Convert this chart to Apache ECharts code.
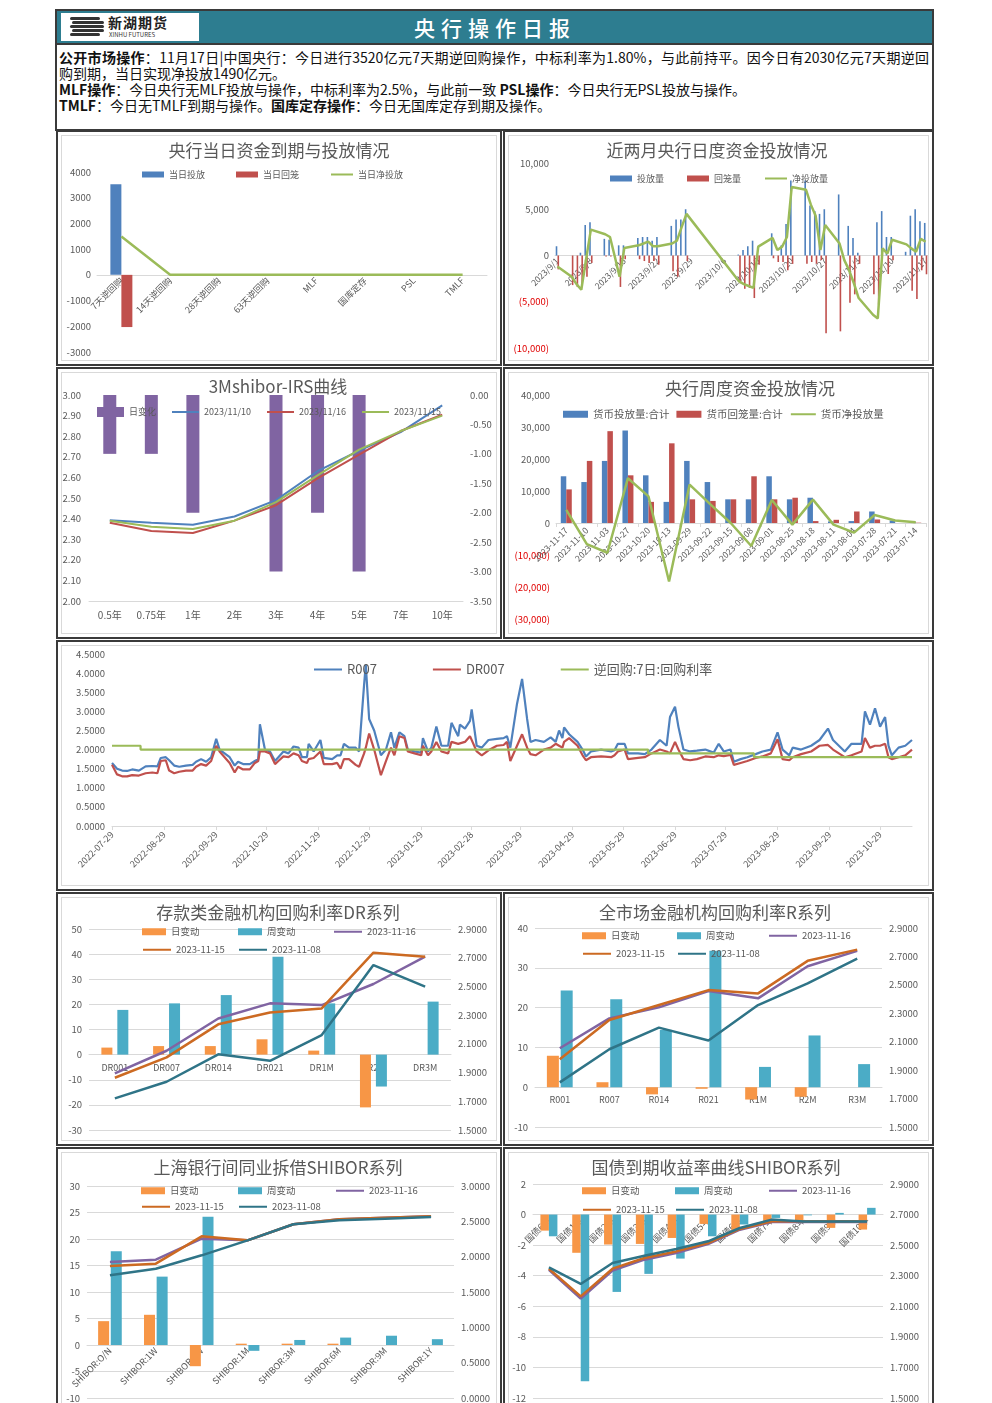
<!DOCTYPE html>
<html lang="zh-CN">
<head>
<meta charset="utf-8">
<title>央行操作日报</title>
<script src="https://cdn.jsdelivr.net/npm/echarts@6/dist/echarts.min.js"></script>
<style>
  html,body{margin:0;padding:0;background:#fff;}
  body{width:992px;height:1403px;position:relative;overflow:hidden;font-family:"Noto Sans CJK SC","Noto Sans",sans-serif;}
  .box{position:absolute;box-sizing:border-box;}
  .panel{position:absolute;box-sizing:border-box;border:2px solid #3a3a3a;background:#fff;}
  .panel .inner{position:absolute;left:3px;top:3px;right:3px;bottom:3px;border:1px solid #d9d9d9;}
  .chart{position:absolute;}
  .news{position:absolute;left:59px;font-size:14px;line-height:16px;color:#111;white-space:nowrap;}
  .news b{font-weight:700;}
  .stripe{position:absolute;height:3px;background:#333;border-radius:2px;}
</style>
</head>
<body>
<!-- 报头 -->
<div class="box" style="left:55px;top:9px;width:879px;height:122px;border:2px solid #3a3a3a;"></div>
<div class="box" style="left:57px;top:11px;width:875px;height:32px;background:#2d7d90;"></div>
<div class="box" style="left:61px;top:13px;width:138px;height:28px;background:#fff;"></div>
<div class="stripe" style="left:70px;top:17px;width:30px;"></div>
<div class="stripe" style="left:72px;top:21px;width:32px;"></div>
<div class="stripe" style="left:70px;top:25px;width:34px;"></div>
<div class="stripe" style="left:72px;top:29px;width:32px;"></div>
<div class="stripe" style="left:70px;top:33px;width:30px;"></div>
<div class="box" style="left:108px;top:13px;font-size:14px;line-height:18px;font-weight:700;color:#222;letter-spacing:1px;">新湖期货</div>
<div class="box" style="left:109px;top:31px;font-size:6px;line-height:7px;color:#333;">XINHU FUTURES</div>
<div class="box" style="left:345px;top:12px;width:300px;text-align:center;font-size:21px;line-height:30px;color:#fff;font-weight:500;letter-spacing:6px;">央行操作日报</div>
<div class="box" style="left:55px;top:43px;width:879px;height:2px;background:#3a3a3a;"></div>

<div class="news" style="top:49px;width:870px;text-align:justify;text-align-last:justify;"><b>公开市场操作</b>：11月17日|中国央行：今日进行3520亿元7天期逆回购操作，中标利率为1.80%，与此前持平。因今日有2030亿元7天期逆回</div>
<div class="news" style="top:65px;">购到期，当日实现净投放1490亿元。</div>
<div class="news" style="top:81px;"><b>MLF操作</b>：今日央行无MLF投放与操作，中标利率为2.5%，与此前一致 <b>PSL操作</b>：今日央行无PSL投放与操作。</div>
<div class="news" style="top:97px;"><b>TMLF</b>：今日无TMLF到期与操作。<b>国库定存操作</b>：今日无国库定存到期及操作。</div>

<!-- 面板 -->
<div class="panel" style="left:56px;top:130px;width:446px;height:236px;"><div class="inner"></div></div>
<div class="panel" style="left:503px;top:130px;width:431px;height:236px;"><div class="inner"></div></div>
<div class="panel" style="left:56px;top:367px;width:446px;height:272px;"><div class="inner"></div></div>
<div class="panel" style="left:503px;top:367px;width:431px;height:272px;"><div class="inner"></div></div>
<div class="panel" style="left:56px;top:640px;width:878px;height:251px;"><div class="inner"></div></div>
<div class="panel" style="left:56px;top:892px;width:446px;height:254px;"><div class="inner"></div></div>
<div class="panel" style="left:503px;top:892px;width:431px;height:254px;"><div class="inner"></div></div>
<div class="panel" style="left:56px;top:1147px;width:446px;height:265px;"><div class="inner"></div></div>
<div class="panel" style="left:503px;top:1147px;width:431px;height:265px;"><div class="inner"></div></div>

<div id="cOps" class="chart" style="left:56px;top:130px;width:446px;height:236px;"></div>
<div id="cDaily" class="chart" style="left:503px;top:130px;width:431px;height:236px;"></div>
<div id="cIrs" class="chart" style="left:56px;top:367px;width:446px;height:272px;"></div>
<div id="cWeek" class="chart" style="left:503px;top:367px;width:431px;height:272px;"></div>
<div id="cRepo" class="chart" style="left:56px;top:640px;width:878px;height:251px;"></div>
<div id="cDR" class="chart" style="left:56px;top:892px;width:446px;height:254px;"></div>
<div id="cR" class="chart" style="left:503px;top:892px;width:431px;height:254px;"></div>
<div id="cShibor" class="chart" style="left:56px;top:1147px;width:446px;height:265px;"></div>
<div id="cBond" class="chart" style="left:503px;top:1147px;width:431px;height:265px;"></div>

<script>
// ---------- 数据 ----------
// 当日资金到期与投放
const opCats = ['7天逆回购', '14天逆回购', '28天逆回购', '63天逆回购', 'MLF', '国库定存', 'PSL', 'TMLF'];
const opInject = [3520, 0, 0, 0, 0, 0, 0, 0];
const opWithdraw = [-2030, 0, 0, 0, 0, 0, 0, 0];
const opNet = [1490, 0, 0, 0, 0, 0, 0, 0];

// 近两月日度投放（工作日）
const dailyDates = ['9/1','9/4','9/5','9/6','9/7','9/8','9/11','9/12','9/13','9/14',
  '9/15','9/18','9/19','9/20','9/21','9/22','9/25','9/26','9/27','9/28',
  '10/9','10/10','10/11','10/12','10/13','10/16','10/17','10/18','10/19','10/20',
  '10/23','10/24','10/25','10/26','10/27','10/30','10/31','11/1','11/2','11/3',
  '11/6','11/7','11/8','11/9','11/10','11/13','11/14','11/15','11/16','11/17'];
const dailyInject = [1000,0,0,300,3300,3600,1800,1700,0,1100,
  1100,1900,2000,2000,1600,2000,3200,3900,3900,5000,
  100,600,1000,1600,0,2400,0,1100,3400,8100,
  8100,5400,4800,4500,5000,6600,0,3200,1900,300,
  0,3600,4800,2000,2000,400,4300,5000,3700,3520];
const dailyWithdraw = [-1500,-3200,-3400,-3400,-2300,-800,-100,-100,0,-3400,
  -400,-400,-600,-800,-600,-1000,-1700,-2300,0,-600,
  -3000,-3600,-3500,-4600,-1000,-300,-700,-700,-1600,-900,
  -900,-700,-900,-500,-8400,-8200,0,-5100,-4200,-900,
  -4200,-5300,0,-2000,-500,0,-3800,-4700,-1600,-2030];
const dailyNet = [-1200,-2300,-3100,-3700,-400,2800,2300,2000,-100,-2300,
  800,1100,1300,1500,1000,1000,1300,1600,3100,4500,
  -2800,-3100,-3300,-3500,960,1900,600,960,2000,7400,
  7100,5500,4300,600,3300,1300,-500,-1600,-3000,-4600,
  -6400,-6800,770,200,1700,1200,770,400,1800,1490];

// 3M shibor IRS
const irsCats = ['0.5年', '0.75年', '1年', '2年', '3年', '4年', '5年', '7年', '10年'];
const irsChg = [-1, -1, -2, 0, -3, -2, -3, 0, 0];
const irs1110 = [2.392, 2.38, 2.37, 2.41, 2.49, 2.63, 2.73, 2.82, 2.95];
const irs1116 = [2.38, 2.34, 2.33, 2.39, 2.465, 2.595, 2.71, 2.825, 2.905];
const irs1115 = [2.39, 2.36, 2.35, 2.39, 2.48, 2.61, 2.735, 2.825, 2.90];

// 周度投放
const weekLabels = ['2023-11-17','2023-11-10','2023-11-03','2023-10-27','2023-10-20','2023-10-13','2023-09-29','2023-09-22','2023-09-15',
  '2023-09-08','2023-09-01','2023-08-25','2023-08-18','2023-08-11','2023-08-04','2023-07-28','2023-07-21','2023-07-14'];
const weekInject = [14600,12800,19400,28900,14900,6600,19400,12800,7400,7400,14600,7400,7900,500,600,3600,800,300];
const weekWithdraw = [10500,19400,28700,14900,6600,24900,7400,6900,7400,14600,7400,7900,600,1000,3600,1100,0,100];
const weekNet = [4100,-6600,-9300,14000,8300,-18300,12000,5900,0,-7200,7200,-500,7300,-500,-3000,2500,800,200];

// R007 / DR007 / 7天逆回购利率
const repoDates = ['2022-07-29','2022-08-01','2022-08-04','2022-08-07','2022-08-10','2022-08-14','2022-08-18','2022-08-22','2022-08-25','2022-08-27',
  '2022-08-30','2022-09-01','2022-09-04','2022-09-07','2022-09-11','2022-09-15','2022-09-17','2022-09-20','2022-09-23','2022-09-26',
  '2022-09-29','2022-10-01','2022-10-04','2022-10-07','2022-10-10','2022-10-12','2022-10-15','2022-10-19','2022-10-22','2022-10-24',
  '2022-10-25','2022-10-28','2022-10-31','2022-11-03','2022-11-05','2022-11-08','2022-11-11','2022-11-14','2022-11-17','2022-11-19',
  '2022-11-22','2022-11-23','2022-11-26','2022-11-30','2022-12-02','2022-12-07','2022-12-10','2022-12-12','2022-12-14','2022-12-17',
  '2022-12-21','2022-12-23','2022-12-26','2022-12-27','2022-12-29','2023-01-01','2023-01-05','2023-01-08','2023-01-11','2023-01-13',
  '2023-01-16','2023-01-19','2023-01-21','2023-01-25','2023-01-29','2023-01-30','2023-02-02','2023-02-04','2023-02-07','2023-02-10',
  '2023-02-14','2023-02-16','2023-02-20','2023-02-21','2023-02-24','2023-02-27','2023-02-28','2023-03-03','2023-03-06','2023-03-10',
  '2023-03-15','2023-03-19','2023-03-21','2023-03-23','2023-03-27','2023-03-30','2023-04-02','2023-04-04','2023-04-07','2023-04-12',
  '2023-04-16','2023-04-19','2023-04-21','2023-04-23','2023-04-24','2023-04-27','2023-05-02','2023-05-05','2023-05-07','2023-05-10',
  '2023-05-16','2023-05-22','2023-05-24','2023-05-26','2023-05-30','2023-06-01','2023-06-07','2023-06-11','2023-06-15','2023-06-20',
  '2023-06-24','2023-06-26','2023-06-29','2023-07-01','2023-07-04','2023-07-08','2023-07-12','2023-07-17','2023-07-22','2023-07-25',
  '2023-07-28','2023-08-01','2023-08-03','2023-08-07','2023-08-11','2023-08-16','2023-08-20','2023-08-25','2023-08-29','2023-09-01',
  '2023-09-05','2023-09-07','2023-09-12','2023-09-18','2023-09-23','2023-09-28','2023-10-01','2023-10-08','2023-10-12','2023-10-18',
  '2023-10-20','2023-10-23','2023-10-26','2023-10-29','2023-11-01','2023-11-03','2023-11-05','2023-11-09','2023-11-13','2023-11-17'];
const r007 = [1.65,1.50,1.45,1.44,1.48,1.45,1.56,1.57,1.56,1.78,
  1.80,1.72,1.58,1.55,1.58,1.60,1.68,1.75,1.68,1.80,
  2.28,2.00,1.90,1.80,1.58,1.68,1.62,1.62,1.70,1.75,
  2.66,2.00,1.95,1.70,1.80,1.95,1.90,2.08,2.05,1.80,
  1.80,2.15,1.95,2.25,1.78,1.75,1.85,1.85,2.15,2.05,
  2.05,1.95,3.70,4.22,2.80,2.50,1.85,2.00,2.45,2.05,
  2.45,2.35,2.00,1.95,1.92,2.30,1.95,2.05,2.60,2.10,
  2.10,2.70,2.35,2.65,2.55,2.75,3.05,2.10,2.05,2.25,
  2.28,2.30,2.35,2.05,3.20,3.85,2.80,2.20,2.25,2.20,
  2.32,2.20,2.50,2.30,2.58,2.40,2.20,2.00,1.82,1.95,
  2.00,1.95,1.98,2.15,2.15,1.90,1.90,1.88,2.00,2.25,
  2.10,2.85,3.12,2.60,2.00,1.95,1.97,2.00,1.92,2.15,
  1.95,2.00,1.68,1.75,1.80,1.88,1.95,2.00,2.45,2.00,
  1.85,2.05,2.00,2.10,2.25,2.55,2.25,1.95,2.15,2.15,
  3.00,2.65,3.08,2.60,2.85,2.10,1.85,2.05,2.10,2.25];
const dr007 = [1.60,1.35,1.30,1.30,1.33,1.32,1.38,1.40,1.38,1.70,
  1.72,1.45,1.38,1.42,1.45,1.45,1.55,1.62,1.58,1.70,
  2.10,1.95,1.80,1.65,1.40,1.55,1.48,1.48,1.65,1.70,
  1.95,1.95,1.90,1.62,1.70,1.82,1.80,1.90,1.85,1.70,
  1.65,1.75,1.78,1.95,1.62,1.62,1.65,1.50,1.75,1.75,
  1.60,1.55,1.90,2.05,2.42,2.00,1.33,1.70,2.05,1.85,
  2.35,2.30,1.95,1.90,1.85,2.10,1.85,1.95,2.20,1.95,
  1.90,2.20,2.15,2.15,2.20,2.35,2.40,1.95,1.85,1.98,
  2.10,2.12,2.20,1.70,2.10,2.40,2.05,1.88,1.85,2.00,
  2.05,2.15,2.10,2.05,2.20,2.30,2.10,1.85,1.72,1.80,
  1.82,1.80,1.85,1.95,2.00,1.75,1.78,1.80,1.90,2.00,
  1.95,1.90,2.20,2.00,1.75,1.72,1.75,1.82,1.80,1.85,
  1.83,1.86,1.60,1.65,1.70,1.78,1.82,1.90,2.27,1.75,
  1.72,1.80,1.88,1.95,2.10,2.12,2.00,1.80,1.85,1.95,
  2.30,2.05,2.10,2.10,2.15,1.80,1.75,1.80,1.85,2.00];
const rrDates = ['2022-07-29', '2022-08-15', '2023-06-13', '2023-08-15', '2023-11-17'];
const rrRates = [2.10, 2.00, 1.90, 1.80, 1.80];

// DR 系列
const drCats = ['DR001', 'DR007', 'DR014', 'DR021', 'DR1M', 'DR2M', 'DR3M'];
const drDay = [2.8, 3.4, 3.4, 6.1, 1.6, -21.0, 0];
const drWeek = [17.8, 20.4, 23.7, 39.0, 20.4, -12.7, 21.1];
const dr1116 = [1.894, 2.052, 2.277, 2.382, 2.370, 2.517, 2.707];
const dr1115 = [1.864, 2.006, 2.236, 2.319, 2.347, 2.735, 2.707];
const dr1108 = [1.720, 1.836, 2.027, 1.982, 2.161, 2.649, 2.498];

// R 系列
const rCats = ['R001', 'R007', 'R014', 'R021', 'R1M', 'R2M', 'R3M'];
const rDay = [7.9, 1.25, -1.8, -0.4, -3.1, -2.4, 0];
const rWeek = [24.3, 22.1, 14.4, 34.3, 5.1, 13.0, 5.8];
const r1116 = [2.054, 2.264, 2.342, 2.456, 2.405, 2.631, 2.739];
const r1115 = [1.977, 2.253, 2.358, 2.463, 2.440, 2.669, 2.748];
const r1108 = [1.814, 2.047, 2.199, 2.108, 2.358, 2.510, 2.685];

// SHIBOR 系列
const shCats = ['SHIBOR:O/N', 'SHIBOR:1W', 'SHIBOR:2W', 'SHIBOR:1M', 'SHIBOR:3M', 'SHIBOR:6M', 'SHIBOR:9M', 'SHIBOR:1Y'];
const shDay = [4.5, 5.7, -4.0, 0.25, 0.25, 0.25, 0, 0];
const shWeek = [17.7, 12.9, 24.2, -1.1, 0.95, 1.4, 1.75, 1.1];
const sh1116 = [1.925, 1.958, 2.255, 2.231, 2.458, 2.528, 2.552, 2.571];
const sh1115 = [1.868, 1.901, 2.288, 2.231, 2.458, 2.528, 2.552, 2.571];
const sh1108 = [1.736, 1.830, 2.019, 2.231, 2.458, 2.514, 2.538, 2.561];

// 国债收益率
const bdCats = ['国债6月', '国债1年', '国债2年', '国债3年', '国债4年', '国债5年', '国债6年', '国债7年', '国债8年', '国债9年', '国债10年'];
const bdDay = [-1.05, -2.5, -1.96, -1.92, -1.53, -0.61, -1.02, -0.59, -0.48, -0.87, -0.98];
const bdWeek = [-1.42, -10.9, -5.06, -3.88, -2.88, -1.42, -0.65, -0.22, -0.05, 0.11, 0.44];
const bd1116 = [2.339, 2.150, 2.333, 2.405, 2.449, 2.507, 2.601, 2.651, 2.651, 2.651, 2.651];
const bd1115 = [2.346, 2.165, 2.346, 2.416, 2.459, 2.514, 2.606, 2.656, 2.656, 2.656, 2.656];
const bd1108 = [2.355, 2.246, 2.383, 2.431, 2.475, 2.525, 2.612, 2.667, 2.655, 2.655, 2.655];

// ---------- 样式 ----------
const FONT = '"Noto Sans CJK SC","Noto Sans",sans-serif';
const TXT = '#595959';
const GRIDC = '#d9d9d9';
const C_BLUE = '#4f81bd', C_RED = '#c0504d', C_GREEN = '#9bbb59', C_PURPLE = '#8064a2';
const C_ORANGE = '#f79646', C_TEAL = '#4bacc6', C_BROWN = '#cc6a22', C_DTEAL = '#2f7487';

function mk(id, opt) {
  const chart = echarts.init(document.getElementById(id), null, {renderer: 'canvas'});
  opt.animation = false;
  opt.textStyle = {fontFamily: FONT};
  chart.setOption(opt);
  return chart;
}
function ttl(text, left, top) {
  return {text: text, left: left, top: top, textAlign: 'center', padding: 0,
    textStyle: {fontSize: 17, fontWeight: 'normal', color: TXT, fontFamily: FONT}};
}
// 类目轴放在 0 值处（整条轴含标签一起上移）
function zeroShift(h, grid, min, max) {
  const plotH = h - grid.top - grid.bottom;
  return -plotH * (0 - min) / (max - min);
}
const lbl = (extra) => Object.assign({fontSize: 9.5, color: TXT, fontFamily: FONT}, extra || {});
const thou = v => Math.abs(v).toLocaleString('en-US');
const redParen = v => v < 0 ? '{n|(' + thou(v) + ')}' : thou(v);
const lineS = (name, data, color, extra) => Object.assign({name: name, type: 'line', data: data, symbol: 'none',
  lineStyle: {width: 2.5, color: color}, itemStyle: {color: color}}, extra || {});
const lineLeg = name => ({name: name, itemStyle: {opacity: 0}});
const noAxisLine = {axisLine: {show: false}, axisTick: {show: false}};

// 1 央行当日资金到期与投放情况
const g1 = {left: 41, right: 15, top: 42, bottom: 14};
mk('cOps', {
  title: ttl('央行当日资金到期与投放情况', 223, 12),
  legend: {top: 40, left: 86, itemWidth: 22, itemHeight: 6, itemGap: 31, padding: 0,
    textStyle: {fontSize: 9, color: TXT},
    data: [{name: '当日投放', icon: 'rect'}, {name: '当日回笼', icon: 'rect'}, lineLeg('当日净投放')]},
  grid: g1,
  xAxis: {type: 'category', data: opCats, offset: zeroShift(236, g1, -3000, 4000),
    axisLine: {onZero: false, lineStyle: {color: GRIDC}}, axisTick: {show: false},
    axisLabel: lbl({rotate: 45, interval: 0, fontSize: 9, margin: 4})},
  yAxis: Object.assign({type: 'value', min: -3000, max: 4000, interval: 1000, splitLine: {show: false},
    axisLabel: lbl({margin: 6, formatter: v => String(v)})}, noAxisLine),
  series: [
    {name: '当日投放', type: 'bar', data: opInject, barWidth: 11, barGap: '0%', itemStyle: {color: C_BLUE}},
    {name: '当日回笼', type: 'bar', data: opWithdraw, barWidth: 11, itemStyle: {color: C_RED}},
    lineS('当日净投放', opNet, C_GREEN)
  ]
});

// 2 近两月央行日度资金投放情况
const calDays = [];
for (let i = 0; i < 78; i++) {
  const d = new Date(Date.UTC(2023, 8, 1 + i));
  calDays.push((d.getUTCMonth() + 1) + '/' + d.getUTCDate());
}
const onCal = arr => calDays.map(k => { const i = dailyDates.indexOf(k); return i < 0 ? null : arr[i]; });
const g2 = {left: 52, right: 6, top: 33, bottom: 18};
mk('cDaily', {
  title: ttl('近两月央行日度资金投放情况', 214, 12),
  legend: {top: 44, left: 107, itemWidth: 22, itemHeight: 6, itemGap: 23, padding: 0,
    textStyle: {fontSize: 9, color: TXT},
    data: [{name: '投放量', icon: 'rect'}, {name: '回笼量', icon: 'rect'}, lineLeg('净投放量')]},
  grid: g2,
  xAxis: {type: 'category', data: calDays, offset: zeroShift(236, g2, -10000, 10000),
    axisLine: {onZero: false, lineStyle: {color: GRIDC}}, axisTick: {show: false},
    axisLabel: lbl({rotate: 45, interval: 6, fontSize: 8.5, margin: 4, formatter: v => '2023/' + v})},
  yAxis: Object.assign({type: 'value', min: -10000, max: 10000, interval: 5000, splitLine: {show: false},
    axisLabel: lbl({margin: 6, formatter: redParen, rich: {n: {color: '#e00000', fontSize: 9.5, fontFamily: FONT}}})}, noAxisLine),
  series: [
    {name: '投放量', type: 'bar', data: onCal(dailyInject), barWidth: 1.6, barGap: '10%', itemStyle: {color: C_BLUE}},
    {name: '回笼量', type: 'bar', data: onCal(dailyWithdraw), barWidth: 1.6, itemStyle: {color: C_RED}},
    lineS('净投放量', onCal(dailyNet), C_GREEN, {connectNulls: true})
  ]
});

// 3 3Mshibor-IRS曲线
mk('cIrs', {
  title: ttl('3Mshibor-IRS曲线', 222, 11),
  legend: {top: 40, left: 41, itemWidth: 27, itemHeight: 10, itemGap: 15, padding: 0,
    textStyle: {fontSize: 9, color: TXT},
    data: [{name: '日变化', icon: 'rect'}, lineLeg('2023/11/10'), lineLeg('2023/11/16'), lineLeg('2023/11/15')]},
  grid: {left: 33, right: 39, top: 28, bottom: 38},
  xAxis: {type: 'category', data: irsCats,
    axisLine: {onZero: false, lineStyle: {color: GRIDC}}, axisTick: {show: false},
    axisLabel: lbl({fontSize: 10, margin: 9, interval: 0})},
  yAxis: [
    Object.assign({type: 'value', min: 2, max: 3, interval: 0.1, splitLine: {show: false},
      axisLabel: lbl({margin: 8, formatter: v => v.toFixed(2)})}, noAxisLine),
    Object.assign({type: 'value', min: -3.5, max: 0, interval: 0.5, splitLine: {show: false},
      axisLabel: lbl({margin: 7, formatter: v => v.toFixed(2)})}, noAxisLine)
  ],
  series: [
    {name: '日变化', type: 'bar', yAxisIndex: 1, data: irsChg, barWidth: 13, itemStyle: {color: C_PURPLE}},
    lineS('2023/11/10', irs1110, C_BLUE, {lineStyle: {width: 2, color: C_BLUE}}),
    lineS('2023/11/16', irs1116, C_RED, {lineStyle: {width: 2, color: C_RED}}),
    lineS('2023/11/15', irs1115, C_GREEN, {lineStyle: {width: 2, color: C_GREEN}})
  ]
});

// 4 央行周度资金投放情况
const g4 = {left: 53, right: 8, top: 28, bottom: 20};
mk('cWeek', {
  title: ttl('央行周度资金投放情况', 247, 13),
  legend: {top: 42, left: 60, itemWidth: 25, itemHeight: 7, itemGap: 7, padding: 0,
    textStyle: {fontSize: 10.5, color: TXT},
    data: [{name: '货币投放量:合计', icon: 'rect'}, {name: '货币回笼量:合计', icon: 'rect'}, lineLeg('货币净投放量')]},
  grid: g4,
  xAxis: {type: 'category', data: weekLabels, offset: zeroShift(272, g4, -30000, 40000),
    axisLine: {onZero: false, lineStyle: {color: GRIDC}},
    axisTick: {show: true, length: 4, lineStyle: {color: GRIDC}},
    axisLabel: lbl({rotate: 45, interval: 0, fontSize: 8.5, margin: 6})},
  yAxis: Object.assign({type: 'value', min: -30000, max: 40000, interval: 10000, splitLine: {show: false},
    axisLabel: lbl({margin: 6, formatter: redParen, rich: {n: {color: '#e00000', fontSize: 9.5, fontFamily: FONT}}})}, noAxisLine),
  series: [
    {name: '货币投放量:合计', type: 'bar', data: weekInject, barWidth: 5.5, barGap: '0%', itemStyle: {color: C_BLUE}},
    {name: '货币回笼量:合计', type: 'bar', data: weekWithdraw, barWidth: 5.5, itemStyle: {color: C_RED}},
    lineS('货币净投放量', weekNet, C_GREEN)
  ]
});

// 5 R007 / DR007 / 逆回购7日（横轴为距 2022-07-29 的天数）
const toTs = s => new Date(s + 'T00:00:00Z').getTime();
const DAY0 = toTs('2022-07-29');
const dayOf = s => Math.round((toTs(s) - DAY0) / 864e5);
const monthTicks = [];
for (let y = 2022, m = 6; !(y === 2023 && m === 10);) {
  const dim = new Date(Date.UTC(y, m + 1, 0)).getUTCDate();
  monthTicks.push(Math.round((Date.UTC(y, m, Math.min(29, dim)) - DAY0) / 864e5));
  m++; if (m === 12) { m = 0; y++; }
}
const pad2 = n => (n < 10 ? '0' : '') + n;
const fmtDay = v => { const d = new Date(DAY0 + v * 864e5); return d.getUTCFullYear() + '-' + pad2(d.getUTCMonth() + 1) + '-' + pad2(d.getUTCDate()); };
const pairs = (dates, vals) => dates.map((d, i) => [dayOf(d), vals[i]]);
mk('cRepo', {
  legend: {top: 23, left: 257, itemWidth: 28, itemHeight: 10, itemGap: 55, padding: 0,
    textStyle: {fontSize: 13, color: TXT}, data: [lineLeg('R007'), lineLeg('DR007'), lineLeg('逆回购:7日:回购利率')]},
  grid: {left: 56, right: 22, top: 14, bottom: 65},
  xAxis: {type: 'value', min: 0, max: dayOf('2023-11-17'),
    splitLine: {show: false},
    axisLine: {show: true, onZero: false, lineStyle: {color: GRIDC}},
    axisTick: {show: true, customValues: monthTicks, length: 4, lineStyle: {color: GRIDC}},
    axisLabel: lbl({customValues: monthTicks, rotate: 45, fontSize: 9, margin: 7, formatter: v => fmtDay(v)})},
  yAxis: {type: 'value', min: 0, max: 4.5, interval: 0.5, splitLine: {show: false},
    axisLine: {show: false, onZero: false}, axisTick: {show: false},
    axisLabel: lbl({margin: 7, formatter: v => v.toFixed(4)})},
  series: [
    lineS('R007', pairs(repoDates, r007), C_BLUE, {lineStyle: {width: 2.2, color: C_BLUE}}),
    lineS('DR007', pairs(repoDates, dr007), C_RED, {lineStyle: {width: 2.2, color: C_RED}}),
    lineS('逆回购:7日:回购利率', pairs(rrDates, rrRates), C_GREEN, {step: 'end', lineStyle: {width: 2.2, color: C_GREEN}})
  ]
});

// 6-9 回购利率 / SHIBOR / 国债 组合图
function legendAt(name, left, top, isBar) {
  return {data: [isBar ? {name: name, icon: 'rect'} : lineLeg(name)], left: left, top: top, padding: 0,
    itemWidth: isBar ? 24 : 28, itemHeight: isBar ? 7 : 10, itemGap: 0,
    textStyle: {fontSize: 9.5, color: TXT}};
}
function rateChart(id, h, c) {
  mk(id, {
    title: ttl(c.title, c.tx, 12),
    legend: [
      legendAt('日变动', c.lx[0], c.ly[0], true),
      legendAt('周变动', c.lx[1], c.ly[0], true),
      legendAt('2023-11-16', c.lx[2], c.ly[0]),
      legendAt('2023-11-15', c.lx[0], c.ly[1]),
      legendAt('2023-11-08', c.lx[1], c.ly[1])
    ],
    grid: c.grid,
    xAxis: {type: 'category', data: c.cats, offset: zeroShift(h, c.grid, c.l[0], c.l[1]),
      axisLine: {onZero: false, lineStyle: {color: GRIDC}}, axisTick: {show: false},
      axisLabel: lbl({rotate: c.rot, interval: 0, fontSize: 9, margin: c.rot ? 4 : 8})},
    yAxis: [
      Object.assign({type: 'value', min: c.l[0], max: c.l[1], interval: c.l[2],
        splitLine: {show: true, lineStyle: {color: GRIDC}}, axisLabel: lbl({margin: 7})}, noAxisLine),
      Object.assign({type: 'value', min: c.r[0], max: c.r[1], interval: c.r[2], splitLine: {show: false},
        axisLabel: lbl({margin: 7, formatter: v => v.toFixed(4)})}, noAxisLine)
    ],
    series: [
      {name: '日变动', type: 'bar', data: c.day, barWidth: c.bw, barGap: c.gap, itemStyle: {color: C_ORANGE}},
      {name: '周变动', type: 'bar', data: c.week, barWidth: c.bw, itemStyle: {color: C_TEAL}},
      lineS('2023-11-16', c.d16, C_PURPLE, {yAxisIndex: 1}),
      lineS('2023-11-15', c.d15, C_BROWN, {yAxisIndex: 1}),
      lineS('2023-11-08', c.d08, C_DTEAL, {yAxisIndex: 1})
    ]
  });
}

rateChart('cDR', 254, {title: '存款类金融机构回购利率DR系列', tx: 222, cats: drCats,
  day: drDay, week: drWeek, d16: dr1116, d15: dr1115, d08: dr1108,
  l: [-30, 50, 10], r: [1.5, 2.9, 0.2], grid: {left: 33, right: 51, top: 37, bottom: 16},
  bw: 11, gap: '45%', rot: 0, lx: [86, 182, 277], ly: [35, 53]});

rateChart('cR', 254, {title: '全市场金融机构回购利率R系列', tx: 212, cats: rCats,
  day: rDay, week: rWeek, d16: r1116, d15: r1115, d08: r1108,
  l: [-10, 40, 10], r: [1.5, 2.9, 0.2], grid: {left: 32, right: 52, top: 36, bottom: 19},
  bw: 12, gap: '15%', rot: 0, lx: [79, 174, 265], ly: [39, 57]});

rateChart('cShibor', 265, {title: '上海银行间同业拆借SHIBOR系列', tx: 222, cats: shCats,
  day: shDay, week: shWeek, d16: sh1116, d15: sh1115, d08: sh1108,
  l: [-10, 30, 5], r: [0, 3, 0.5], grid: {left: 31, right: 48, top: 39, bottom: 14},
  bw: 11, gap: '15%', rot: 45, lx: [85, 182, 279], ly: [39, 55]});

rateChart('cBond', 265, {title: '国债到期收益率曲线SHIBOR系列', tx: 213, cats: bdCats,
  day: bdDay, week: bdWeek, d16: bd1116, d15: bd1115, d08: bd1108,
  l: [-12, 2, 2], r: [1.5, 2.9, 0.2], grid: {left: 30, right: 51, top: 37, bottom: 14},
  bw: 8.5, gap: '0%', rot: 45, lx: [79, 172, 265], ly: [39, 58]});
</script>
</body>
</html>
